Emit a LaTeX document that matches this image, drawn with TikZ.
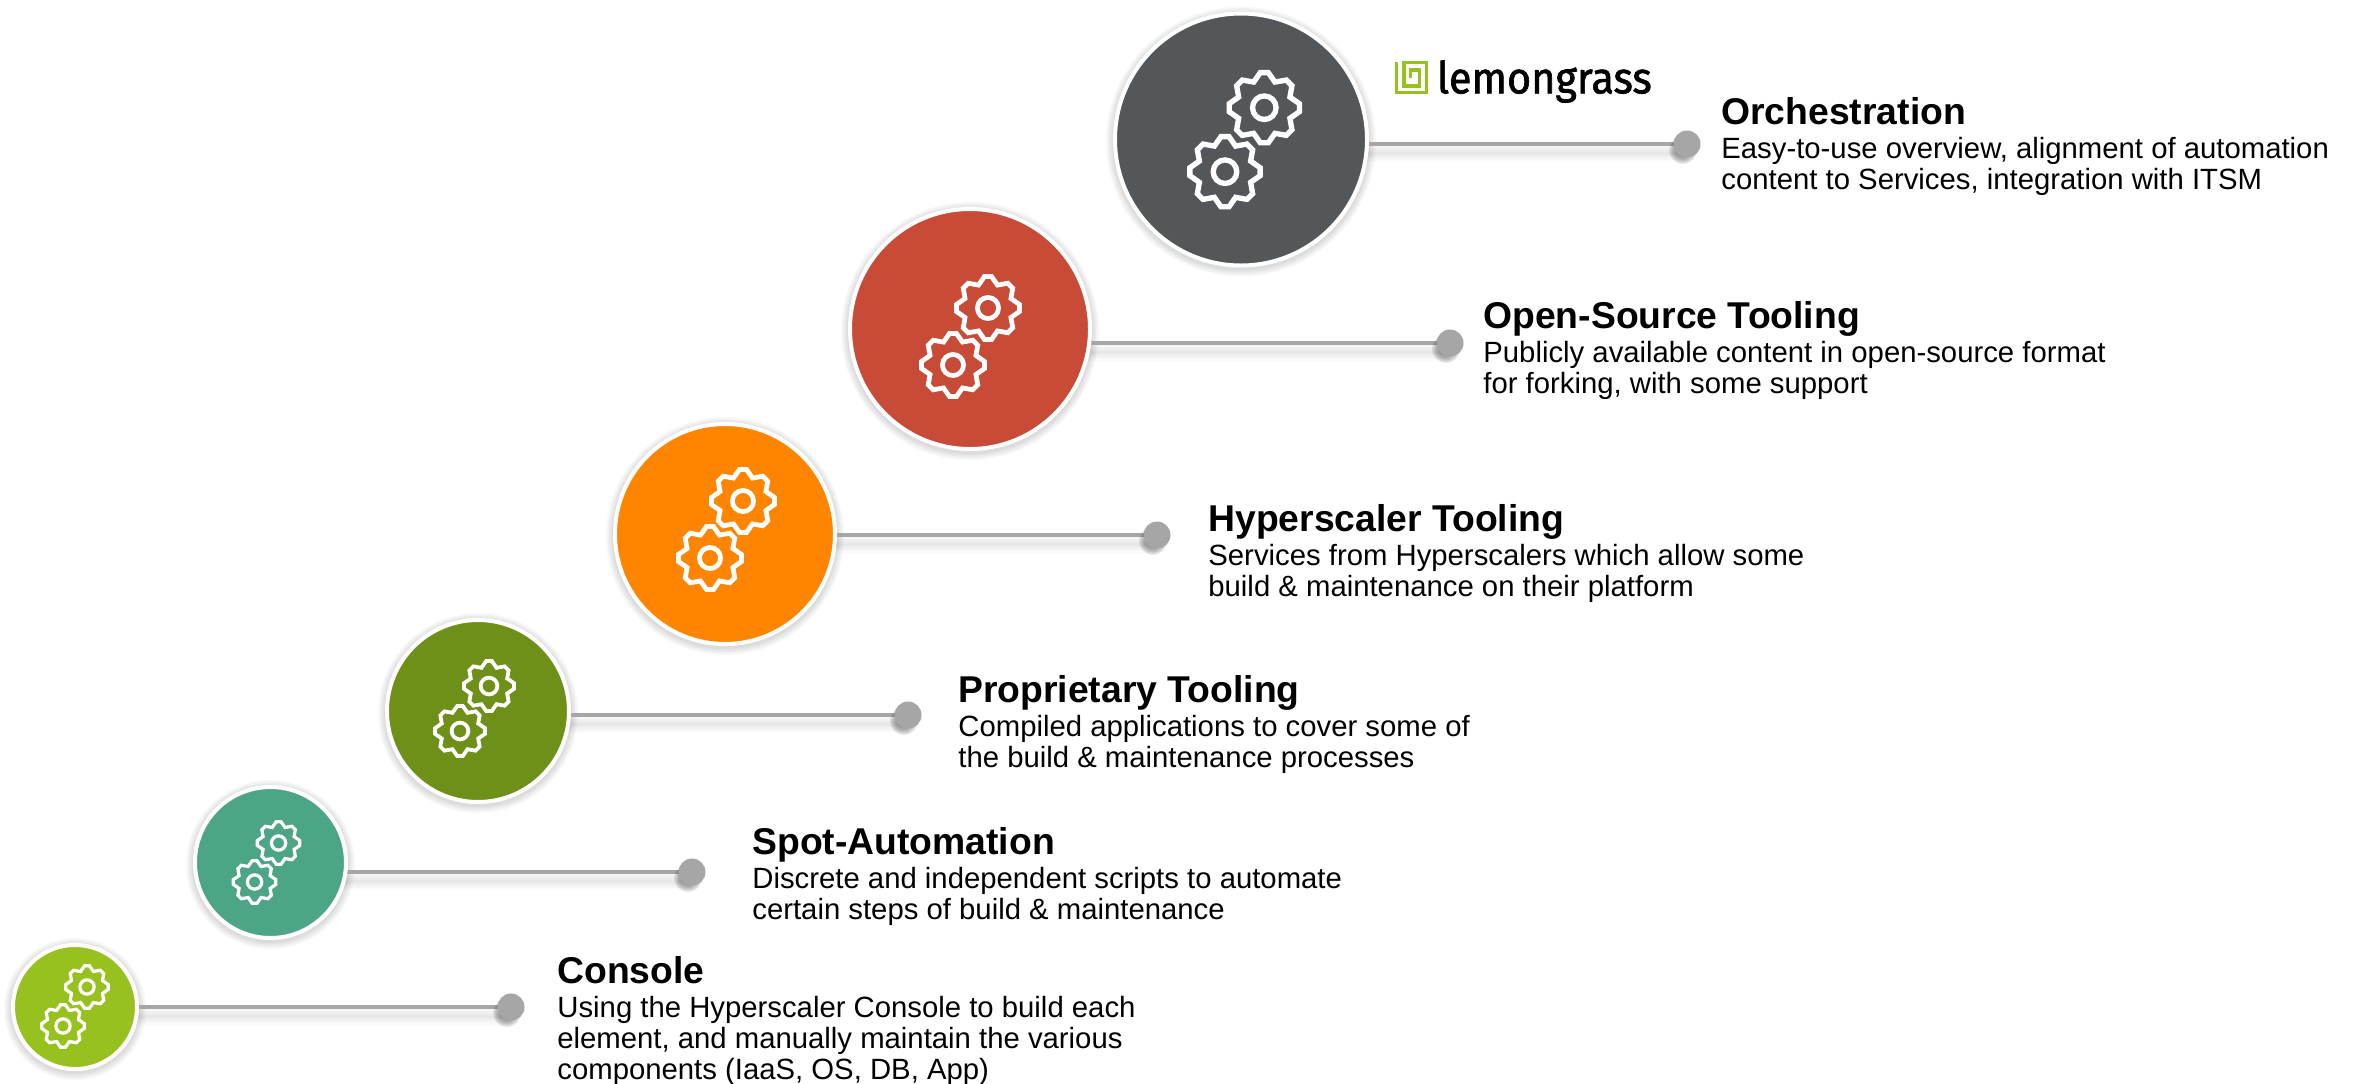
\documentclass[tikz,border=0pt]{standalone}
\usepackage{graphicx}
\usepackage{fontspec}
\setmainfont{Liberation Sans}
\newfontfamily\logofont[FakeBold=1.6]{Fira Sans}
\usetikzlibrary{backgrounds}
\definecolor{cdark}{HTML}{54575A}
\definecolor{cred}{HTML}{C74B36}
\definecolor{corange}{HTML}{FF8500}
\definecolor{colive}{HTML}{6E9018}
\definecolor{cteal}{HTML}{4CA585}
\definecolor{clime}{HTML}{97C11F}
\definecolor{cdot}{HTML}{A6A6A6}
\tikzset{
  stagecircle/.style={circle,draw=white,line width=2pt,inner sep=0pt},
  enddot/.style={circle,fill=cdot,draw=none,inner sep=0pt,minimum size=13.5pt},
  conn/.style={draw=cdot,line width=1.7pt},
  softshadow/.style={black,opacity=0.028,draw=none},
  titletext/.style={anchor=base west,inner sep=0pt,font=\bfseries\fontsize{18.65}{20}\selectfont},
  bodytext/.style={anchor=base west,inner sep=0pt,font=\fontsize{14.65}{15.7}\selectfont},
  gearline/.style={draw=white,line join=miter,miter limit=3},
}
% name, cx, cy, r, colour, dot x, line y
\newcommand{\stage}[7]{%
  \node[stagecircle,fill=#5,minimum size=#4pt-2pt] (#1) at (#2,#3) {};
  \node[enddot] (#1dot) at (#6,#7) {};
  \begin{scope}[on background layer]
    \foreach \q in {1,2.5,4,5.5,7}
      \fill[softshadow] (#1.center)+(0,2) circle ({#4+\q});
    \foreach \w/\s in {9/0.015,7/0.02,5/0.02,3/0.02,1.5/0.02}
      \draw[black,opacity=\s,line width=\w pt] ([yshift=-4.5pt]#1dot.center -| #1.center) -- ([yshift=-4.5pt]#1dot.center);
    \draw[conn] (#1dot.center -| #1.center) -- (#1dot.center);
    \foreach \q in {8,10,11.5,13,14}
      \fill[black,opacity=0.08] (#1dot.center)+(-4,6) circle (\q);
  \end{scope}
}
% x, y, R
\newcommand{\mygear}[3]{%
  \pgfmathsetmacro{\gw}{0.14*#3}
  \pgfmathsetmacro{\gt}{0.93*#3}
  \pgfmathsetmacro{\gv}{0.73*#3}
  \pgfmathsetmacro{\gh}{0.31*#3}
  \begin{scope}[shift={(#1,#2)}]
    \draw[gearline,line width=0.5*\gw pt] (-22.5:\gv)
      \foreach \a in {0,45,...,315} { -- (\a-6.5:\gt) -- (\a+6.5:\gt) -- (\a+22.5:\gv) } -- cycle;
    \draw[gearline,line width=0.5*\gw pt] (0,0) circle (\gh);
  \end{scope}
}
% name, x, title baseline, title, body
\newcommand{\stagetext}[5]{%
  \node[titletext] (#1title) at (#2,#3) {#4};
  \node[bodytext] (#1body) at (#2,#3+34) {\parbox[t]{400pt}{\raggedright #5}};
}
\begin{document}
\begin{tikzpicture}[x=0.5pt,y=-0.5pt]
\useasboundingbox (0,0) rectangle (2358,1083);
\begin{scope}[on background layer]
  \fill[white] (0,0) rectangle (2358,1083);
\end{scope}

\stage{orch}{1241}{139.5}{128}{cdark}{1687}{144}
\stage{open}{970}{329}{122}{cred}{1450}{343}
\stage{hyper}{725}{534}{112}{corange}{1157}{535}
\stage{prop}{478}{711}{93}{colive}{908}{715}
\stage{spot}{270.5}{862.5}{77.5}{cteal}{692}{872}
\stage{cons}{75}{1007}{64}{clime}{511}{1007}

\mygear{1264.3}{107.7}{38}
\mygear{1225}{171.7}{38}
\mygear{988}{308}{34}
\mygear{953}{365}{34}
\mygear{743}{501}{34}
\mygear{710}{558}{34}
\mygear{489}{686}{27}
\mygear{460}{731}{27}
\mygear{278.6}{843}{23}
\mygear{254.6}{882}{23}
\mygear{87}{987}{23}
\mygear{63}{1026}{23}

\draw[clime,line width=1.7pt] (1396.7,61.7) -- (1396.7,92.7) -- (1426.7,92.7) -- (1426.7,62.3) -- (1404,62.3) -- (1404,86) -- (1419.3,86) -- (1419.3,70) -- (1410.7,70) -- (1410.7,78.3);
\node[anchor=base west,inner sep=0pt] (logo) at (1436.7,93.3) {\logofont\fontsize{22}{24}\selectfont\scalebox{0.94}[1]{lemongrass}};

\stagetext{orch}{1721}{124}{Orchestration}{Easy-to-use overview, alignment of automation\\content to Services, integration with ITSM}
\stagetext{open}{1483}{328}{Open-Source Tooling}{Publicly available content in open-source format\\for forking, with some support}
\stagetext{hyper}{1208}{531}{Hyperscaler Tooling}{Services from Hyperscalers which allow some\\build \& maintenance on their platform}
\stagetext{prop}{958}{702}{Proprietary Tooling}{Compiled applications to cover some of\\the build \& maintenance processes}
\stagetext{spot}{752}{854}{Spot-Automation}{Discrete and independent scripts to automate\\certain steps of build \& maintenance}
\stagetext{cons}{557}{983}{Console}{Using the Hyperscaler Console to build each\\element, and manually maintain the various\\components (IaaS, OS, DB, App)}
\end{tikzpicture}
\end{document}
